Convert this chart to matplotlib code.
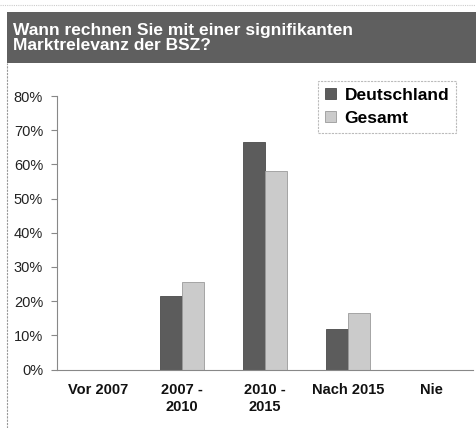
import matplotlib.pyplot as plt
from matplotlib.patches import Rectangle
from matplotlib.lines import Line2D

plt.rcParams['font.family'] = ['Liberation Sans', 'DejaVu Sans']

title = "Wann rechnen Sie mit einer signifikanten\nMarktrelevanz der BSZ?"
categories = ["Vor 2007", "2007 -\n2010", "2010 -\n2015", "Nach 2015", "Nie"]
deutschland = [0.0, 21.5, 66.4, 11.8, 0.0]
gesamt = [0.0, 25.7, 58.1, 16.6, 0.0]
yticks = [0, 10, 20, 30, 40, 50, 60, 70, 80]

fig = plt.figure(figsize=(4.77, 4.28), dpi=100)
W, H = 477, 428

# title bar
fig.patches.append(Rectangle((7 / W, 1 - 63 / H), 470 / W, 51 / H, transform=fig.transFigure,
                             facecolor="#5f5f5f", edgecolor="none", zorder=0))
fig.text(13 / W, 1 - 23 / H, title, color="white", fontsize=12.5, fontweight="bold",
         va="top", ha="left", linespacing=1.0)
# frame lines
fig.lines.append(Line2D([7 / W, 7 / W], [0, 1 - 63 / H], transform=fig.transFigure,
                        color="#999999", lw=0.8, ls=(0, (2, 1))))
fig.lines.append(Line2D([0, 1], [1 - 5 / H, 1 - 5 / H], transform=fig.transFigure,
                        color="#cccccc", lw=0.8, ls=(0, (1, 1))))

ax = fig.add_axes([57 / W, 58.5 / H, 416 / W, 273.5 / H])
x = range(len(categories))
w = 0.265
ax.bar([i - w / 2 for i in x], deutschland, w, color="#5c5c5c", edgecolor="#4a4a4a",
       lw=0.6, label="Deutschland")
ax.bar([i + w / 2 for i in x], gesamt, w, color="#cbcbcb", edgecolor="#9a9a9a",
       lw=0.6, label="Gesamt")

ax.set_xlim(-0.5, 4.5)
ax.set_ylim(0, 80)
ax.set_yticks(yticks)
ax.set_yticklabels([f"{t}%" for t in yticks], fontsize=10.5, color="#222222")
ax.set_xticks(list(x))
ax.set_xticklabels(categories, fontsize=10.5, fontweight="bold", color="#111111")
ax.tick_params(axis="x", length=0, pad=10)
ax.tick_params(axis="y", length=4, color="#888888", pad=6)
for s in ["top", "right"]:
    ax.spines[s].set_visible(False)
for s in ["left", "bottom"]:
    ax.spines[s].set_color("#888888")
    ax.spines[s].set_linewidth(0.8)

leg = ax.legend(loc="upper right", bbox_to_anchor=(0.98, 1.087), prop={"weight": "bold", "size": 12.5},
                frameon=True, fancybox=False, handlelength=0.6, handleheight=0.6,
                handletextpad=0.5, borderpad=0.4, labelspacing=0.45)
leg.get_frame().set_edgecolor("#aaaaaa")
leg.get_frame().set_linestyle((0, (2, 1)))
leg.get_frame().set_linewidth(0.8)

fig.savefig("out.png", dpi=100)
